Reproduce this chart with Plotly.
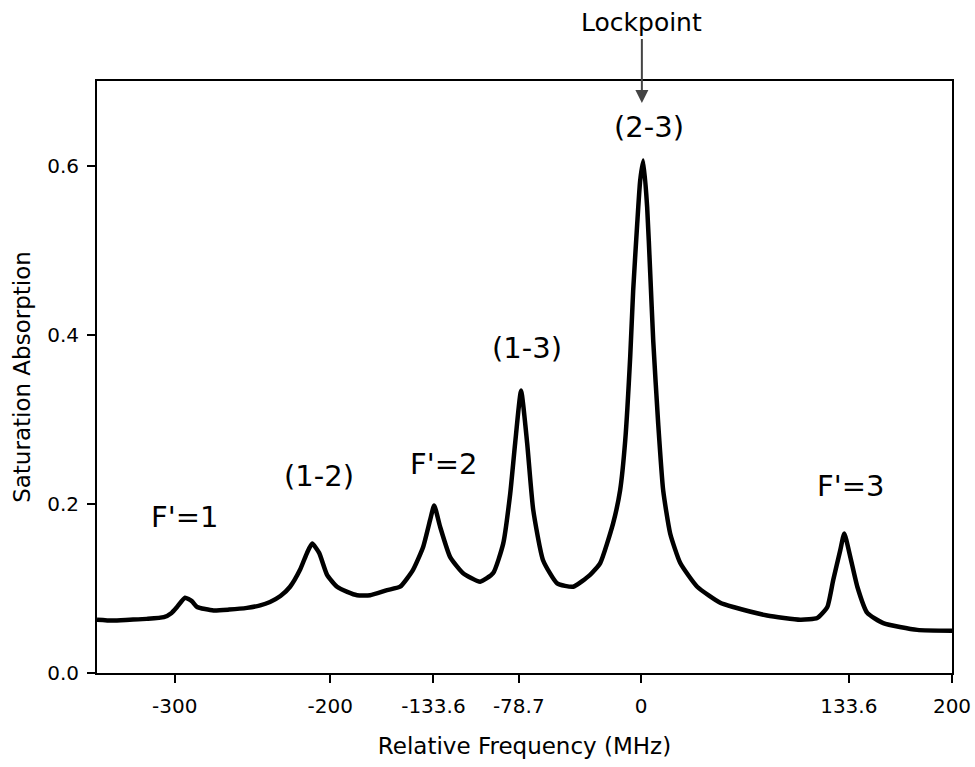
import plotly.graph_objects as go

# Relative frequency (MHz) and saturation absorption signal
freq = [-350, -340, -329, -318, -307, -302, -298.5, -293.4, -289, -285.6, -275, -265,
        -253.5, -245, -238.7, -232, -225.8, -219.4, -214.9, -211.6, -207.1, -202,
        -195.6, -189, -182.7, -174.3, -163.4, -155, -146.7, -140.2, -135.7, -133.1,
        -129.3, -122.8, -114.5, -103.5, -95.2, -88.7, -84.2, -81, -77.2, -73.3,
        -69.4, -63, -54, -43.7, -32.8, -26.3, -18, -13.5, -10.2, -7, -5.1, -2.5,
        -0.6, 1.4, 3.9, 5.9, 7.8, 11, 14.2, 18.7, 25.2, 36.1, 50.9, 59.3, 81.1,
        102.4, 113.3, 119.8, 123.6, 128.1, 130.7, 134.6, 139.1, 145.5, 155.8,
        177.7, 200]
signal = [0.063, 0.062, 0.063, 0.064, 0.066, 0.071, 0.078, 0.089, 0.085, 0.078, 0.074,
          0.075, 0.077, 0.080, 0.084, 0.091, 0.102, 0.122, 0.142, 0.153, 0.142, 0.116,
          0.102, 0.096, 0.092, 0.092, 0.098, 0.102, 0.122, 0.149, 0.181, 0.198, 0.173,
          0.137, 0.118, 0.108, 0.118, 0.153, 0.212, 0.272, 0.334, 0.272, 0.193, 0.133,
          0.106, 0.102, 0.116, 0.130, 0.177, 0.216, 0.275, 0.374, 0.452, 0.531, 0.582,
          0.606, 0.551, 0.472, 0.393, 0.295, 0.216, 0.165, 0.130, 0.102, 0.083, 0.078,
          0.068, 0.063, 0.065, 0.078, 0.110, 0.145, 0.165, 0.137, 0.102, 0.071, 0.059,
          0.051, 0.050]

x_tickvals = [-300, -200, -133.6, -78.7, 0, 133.6, 200]
x_ticktext = ["-300", "-200", "-133.6", "-78.7", "0", "133.6", "200"]
y_tickvals = [0.0, 0.2, 0.4, 0.6]

peak_labels = ["F'=1", "(1-2)", "F'=2", "(1-3)", "(2-3)", "F'=3"]
label_x = [-293.7, -207.1, -127.3, -73.3, 5.2, 134.6]
label_y = [0.184, 0.233, 0.247, 0.384, 0.646, 0.221]

FONT = "DejaVu Sans"

fig = go.Figure()
fig.add_trace(go.Scatter(x=freq, y=signal, mode="lines",
                         line=dict(color="black", width=4.5, shape="spline", smoothing=0.5),
                         showlegend=False))

for t, lx, ly in zip(peak_labels, label_x, label_y):
    fig.add_annotation(x=lx, y=ly, text=t, showarrow=False,
                       font=dict(family=FONT, size=29, color="black"))

fig.add_annotation(x=0.5, y=0.674, text="Lockpoint", showarrow=True,
                   ax=0, ay=-80, arrowhead=2, arrowsize=1.3, arrowwidth=2,
                   arrowcolor="#444", font=dict(family=FONT, size=25, color="black"))

fig.update_layout(
    width=975, height=767,
    margin=dict(l=97, r=23, t=81, b=94),
    paper_bgcolor="white", plot_bgcolor="white",
    font=dict(family=FONT, size=20, color="black"),
    xaxis=dict(range=[-350, 200], tickvals=x_tickvals, ticktext=x_ticktext,
               automargin=False, tickfont=dict(family=FONT, size=20, color="black"),
               showgrid=False, zeroline=False, showline=True, linecolor="black",
               linewidth=2, mirror=True, ticks="outside", ticklen=8, tickwidth=2,
               tickcolor="black", ticklabelstandoff=6,
               title=dict(text="Relative Frequency (MHz)", font=dict(family=FONT, size=23),
                          standoff=21)),
    yaxis=dict(range=[0, 0.7], tickvals=y_tickvals, tickformat=".1f",
               automargin=False, tickfont=dict(family=FONT, size=20, color="black"),
               showgrid=False, zeroline=False, showline=True, linecolor="black",
               linewidth=2, mirror=True, ticks="outside", ticklen=8, tickwidth=2,
               tickcolor="black", ticklabelstandoff=4,
               title=dict(text="Saturation Absorption", font=dict(family=FONT, size=23),
                          standoff=10)),
)

fig.write_html("out.html", config={"displayModeBar": False},
               post_script="document.body.style.margin='0';document.body.style.padding='0';")
